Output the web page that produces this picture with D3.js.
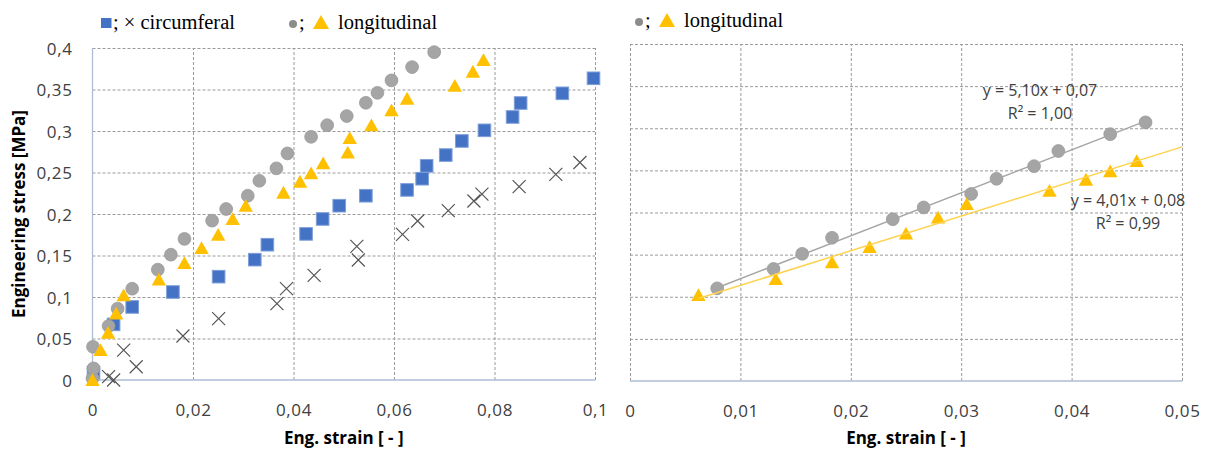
<!DOCTYPE html>
<html><head><meta charset="utf-8">
<script src="https://cdn.jsdelivr.net/npm/d3@7"></script>
<style>
body{margin:0;background:#fff}
text{font-family:"Open Sans",Lato,sans-serif}
</style>
</head><body>
<svg id="c" width="1208" height="451"></svg>
<script>
// ---------- data ----------
const circSquareX = [0.0002,0.0042,0.0079,0.016,0.0251,0.0323,0.0348,0.0425,0.0458,0.0491,0.0544,0.0626,0.0656,0.0665,0.0703,0.0735,0.078,0.0836,0.0852,0.0935,0.0997];
const circSquareY = [0.009,0.067,0.088,0.106,0.1245,0.145,0.163,0.176,0.194,0.210,0.222,0.229,0.2425,0.258,0.271,0.288,0.3008,0.3169,0.3337,0.3454,0.3635];
const circCrossX = [0.0032,0.0042,0.0062,0.0087,0.018,0.0251,0.0367,0.0386,0.0441,0.0526,0.0529,0.0617,0.0647,0.0708,0.0759,0.0775,0.0849,0.0922,0.097];
const circCrossY = [0.004,0.0,0.036,0.016,0.053,0.074,0.092,0.110,0.126,0.161,0.1446,0.1755,0.1916,0.204,0.2157,0.224,0.233,0.2478,0.262];
const longCircleX = [0.0,0.0002,0.0001,0.0032,0.005,0.0079,0.013,0.0156,0.0183,0.0238,0.0266,0.0309,0.0332,0.0366,0.0388,0.0435,0.0467,0.0506,0.0544,0.0567,0.0595,0.0636,0.068];
const longCircleY = [0.002,0.014,0.040,0.065,0.086,0.110,0.133,0.151,0.170,0.192,0.206,0.222,0.240,0.255,0.273,0.293,0.307,0.318,0.334,0.346,0.361,0.377,0.395];
const longTriX = [0.0,0.0016,0.0031,0.0047,0.0062,0.0132,0.0183,0.0217,0.025,0.0279,0.0305,0.038,0.0413,0.0435,0.0459,0.0508,0.0512,0.0555,0.0595,0.0626,0.0721,0.0757,0.0778];
const longTriY = [0.0,0.036,0.057,0.080,0.102,0.121,0.141,0.159,0.175,0.194,0.210,0.2257,0.239,0.249,0.261,0.274,0.2916,0.307,0.325,0.339,0.3546,0.3715,0.3855];
// right chart: linear part (subset of the longitudinal points)
const linCircleRange = [5, 17];   // slice indices
const linTriRange = [4, 15];
const leftXTicks = [0,0.02,0.04,0.06,0.08,0.1];
const leftXLabels = ["0","0,02","0,04","0,06","0,08","0,1"];
const yTicks = [0,0.05,0.1,0.15,0.2,0.25,0.3,0.35,0.4];
const yLabels = ["0","0,05","0,1","0,15","0,2","0,25","0,3","0,35","0,4"];
const rightXTicks = [0,0.01,0.02,0.03,0.04,0.05];
const rightXLabels = ["0","0,01","0,02","0,03","0,04","0,05"];
const eqCircle = ["y = 5,10x + 0,07","R\u00B2 = 1,00"];
const eqTri = ["y = 4,01x + 0,08","R\u00B2 = 0,99"];

// ---------- styles ----------
const BLUE="#4472C4", GRAY="#A5A5A5", GOLD="#FFC000", GRID="#9a9a9a", AXIS="#aebcd6";
const svg = d3.select("#c");
const zip = (a,b)=>a.map((v,i)=>({x:v,y:b[i]}));
const squares = zip(circSquareX,circSquareY);
const crosses = zip(circCrossX,circCrossY);
const circles = zip(longCircleX,longCircleY);
const tris = zip(longTriX,longTriY);
const linCircles = circles.slice(linCircleRange[0],linCircleRange[1]);
const linTris = tris.slice(linTriRange[0],linTriRange[1]);

function panel(o){
  const x = d3.scaleLinear().domain(o.xdom).range([o.l,o.r]);
  const y = d3.scaleLinear().domain([0,0.4]).range([o.b,o.t]);
  const g = svg.append("g");
  // horizontal grid
  g.append("g").attr("transform",`translate(${o.l},0)`)
    .call(d3.axisLeft(y).tickValues(yTicks.filter(v=>v>0)).tickSize(-(o.r-o.l)).tickFormat(""))
    .call(s=>{s.select(".domain").remove();s.selectAll("line").attr("stroke",GRID).attr("stroke-dasharray","3,2");});
  // vertical grid
  g.append("g").attr("transform",`translate(0,${o.b})`)
    .call(d3.axisBottom(x).tickValues(o.xticks.filter(v=>o.gridZero||v>0)).tickSize(-(o.b-o.t)).tickFormat(""))
    .call(s=>{s.select(".domain").remove();s.selectAll("line").attr("stroke",GRID).attr("stroke-dasharray","3,2");});
  // axis lines
  g.append("line").attr("x1",o.l).attr("x2",o.r).attr("y1",o.b).attr("y2",o.b).attr("stroke",AXIS).attr("stroke-width",1.3);
  if(o.yAxisLine) g.append("line").attr("x1",o.l).attr("x2",o.l).attr("y1",o.t).attr("y2",o.b).attr("stroke",AXIS).attr("stroke-width",1.3);
  // x tick labels
  g.append("g").attr("transform",`translate(0,${o.b+33})`)
    .call(d3.axisBottom(x).tickValues(o.xticks).tickSize(0).tickFormat((d,i)=>o.xlabels[i]))
    .call(s=>{s.select(".domain").remove();s.selectAll("text").attr("font-size",17).attr("fill","#404040").attr("letter-spacing","0.6").attr("dy",0).style("font-family","'Open Sans',sans-serif");});
  if(o.ylabels){
    g.append("g").attr("transform",`translate(${o.l-20},0)`)
      .call(d3.axisLeft(y).tickValues(yTicks).tickSize(0).tickFormat((d,i)=>yLabels[i]))
      .call(s=>{s.select(".domain").remove();s.selectAll("text").attr("font-size",17).attr("fill","#404040").attr("letter-spacing","0.6").attr("dy","0.36em").attr("x",0).style("font-family","'Open Sans',sans-serif");});
  }
  // x title
  g.append("text").attr("x",(o.l+o.r)/2 - (o.titleShift||0)).attr("y",444).attr("text-anchor","middle")
    .attr("font-size",17).attr("font-weight","bold").attr("fill","#000").text("Eng. strain [ - ]");
  return {x,y,g};
}

function drawSquares(p,data){
  p.g.append("g").selectAll("rect").data(data).join("rect")
    .attr("x",d=>p.x(d.x)-6.3).attr("y",d=>p.y(d.y)-6.3).attr("width",12.6).attr("height",12.6)
    .attr("fill",BLUE).attr("stroke","#7f9fd8").attr("stroke-width",1);
}
function drawCrosses(p,data){
  p.g.append("g").selectAll("path").data(data).join("path")
    .attr("d",d=>{const cx=p.x(d.x),cy=p.y(d.y),s=6.5;return `M${cx-s},${cy-s}L${cx+s},${cy+s}M${cx-s},${cy+s}L${cx+s},${cy-s}`;})
    .attr("stroke","#555").attr("stroke-width",1.2).attr("fill","none");
}
function drawCircles(p,data){
  p.g.append("g").selectAll("circle").data(data).join("circle")
    .attr("cx",d=>p.x(d.x)).attr("cy",d=>p.y(d.y)).attr("r",6.4)
    .attr("fill",GRAY).attr("stroke","#9b9b9b").attr("stroke-width",0.8);
}
function triPath(cx,cy){return `M${cx},${cy-6.8}L${cx+7.2},${cy+6}L${cx-7.2},${cy+6}Z`;}
function drawTris(p,data){
  p.g.append("g").selectAll("path").data(data).join("path")
    .attr("d",d=>triPath(p.x(d.x),p.y(d.y))).attr("fill",GOLD);
}
function fit(data){
  const mx=d3.mean(data,d=>d.x), my=d3.mean(data,d=>d.y);
  const sxy=d3.sum(data,d=>(d.x-mx)*(d.y-my)), sxx=d3.sum(data,d=>(d.x-mx)**2);
  const m=sxy/sxx; return {m, c:my-m*mx};
}

// ---------- left chart ----------
const L = panel({l:92.5,r:595,t:48,b:380,xdom:[0,0.1],xticks:leftXTicks,xlabels:leftXLabels,ylabels:true,yAxisLine:true,gridZero:false});
drawSquares(L,squares);
drawCrosses(L,crosses);
drawCircles(L,circles);
drawTris(L,tris);
svg.append("text").attr("transform","translate(25,214) rotate(-90)").attr("text-anchor","middle")
  .attr("font-size",17).attr("font-weight","bold").text("Engineering stress [MPa]");

// ---------- right chart ----------
const R = panel({l:630,r:1182,t:44,b:381,xdom:[0,0.05],xticks:rightXTicks,xlabels:rightXLabels,ylabels:false,yAxisLine:false,gridZero:true});
drawCircles(R,linCircles);
drawTris(R,linTris);
const fc = fit(linCircles), ft = fit(linTris);
const xc0=d3.min(linCircles,d=>d.x), xc1=d3.max(linCircles,d=>d.x);
const xt0=d3.min(linTris,d=>d.x), xt1=R.x.domain()[1];
R.g.append("line").attr("x1",R.x(xc0)).attr("x2",R.x(xc1)).attr("y1",R.y(fc.m*xc0+fc.c)).attr("y2",R.y(fc.m*xc1+fc.c))
  .attr("stroke","#a5a5a5").attr("stroke-width",1.5);
R.g.append("line").attr("x1",R.x(xt0)).attr("x2",R.x(xt1)).attr("y1",R.y(ft.m*xt0+ft.c)).attr("y2",R.y(ft.m*xt1+ft.c))
  .attr("stroke","#FFD24D").attr("stroke-width",1.5);
function eq(lines,cx,cy){
  const t=svg.append("text").attr("text-anchor","middle").attr("font-size",16).attr("fill","#404040");
  lines.forEach((s,i)=>t.append("tspan").attr("x",cx).attr("y",cy+i*23).text(s));
}
eq(eqCircle,1040,96);
eq(eqTri,1128,206);

// ---------- legends ----------
const serif = "'Liberation Serif','Times New Roman',serif";
svg.append("rect").attr("x",101).attr("y",18).attr("width",10.5).attr("height",10).attr("fill",BLUE);
svg.append("text").attr("x",113).attr("y",29).attr("font-size",20.5).style("font-family",serif).text("; \u00D7 circumferal");
function legLong(cx,cy,tx,ty){
  svg.append("circle").attr("cx",cx).attr("cy",cy).attr("r",4).attr("fill","#8c8c8c");
  svg.append("text").attr("x",cx+6).attr("y",ty).attr("font-size",20.5).style("font-family",serif).text(";");
  svg.append("path").attr("d",`M${cx+28},${cy-9}L${cx+36},${cy+5}L${cx+20},${cy+5}Z`).attr("fill",GOLD);
  svg.append("text").attr("x",tx).attr("y",ty).attr("font-size",20.5).style("font-family",serif).text("longitudinal");
}
legLong(293,24,338,29);
legLong(639,22,684,27);
</script>
</body></html>
